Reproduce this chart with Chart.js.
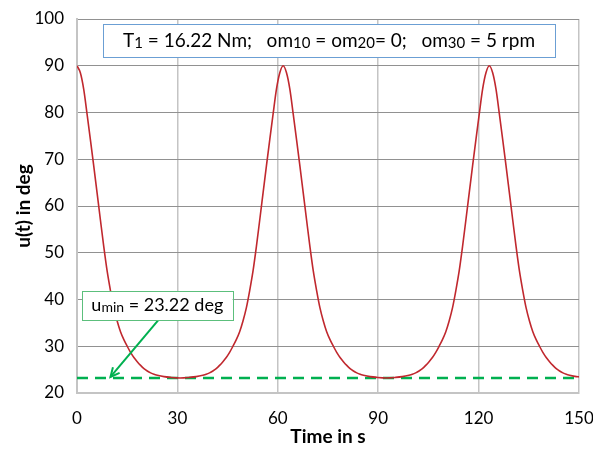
<!DOCTYPE html>
<html>
<head>
<meta charset="utf-8">
<script src="https://cdn.jsdelivr.net/npm/chart.js@4.4.1/dist/chart.umd.min.js"></script>
<style>
  html, body { margin: 0; padding: 0; background: #fff; }
</style>
</head>
<body>
<canvas id="chart" width="593" height="451"></canvas>
<script>
// time in s
const timeS = [
  0, 1, 2, 3, 4, 5, 6, 7, 8, 9, 10, 11, 12, 13, 14, 15, 16, 17, 18, 19, 20, 21, 22, 23, 24, 26, 28, 30.8,
  33.6, 35.6, 37.6, 38.6, 39.6, 40.6, 41.6, 42.6, 43.6, 44.6, 45.6, 46.6, 47.6, 48.6, 49.6, 50.6, 51.6, 52.6, 53.6, 54.6, 55.6, 56.6, 57.6, 58.6, 59.6, 60.6, 61.6,
  62.6, 63.6, 64.6, 65.6, 66.6, 67.6, 68.6, 69.6, 70.6, 71.6, 72.6, 73.6, 74.6, 75.6, 76.6, 77.6, 78.6, 79.6, 80.6, 81.6, 82.6, 83.6, 84.6, 85.6, 87.6, 89.6, 92.4,
  95.2, 97.2, 99.2, 100.2, 101.2, 102.2, 103.2, 104.2, 105.2, 106.2, 107.2, 108.2, 109.2, 110.2, 111.2, 112.2, 113.2, 114.2, 115.2, 116.2, 117.2, 118.2, 119.2, 120.2, 121.2, 122.2, 123.2,
  124.2, 125.2, 126.2, 127.2, 128.2, 129.2, 130.2, 131.2, 132.2, 133.2, 134.2, 135.2, 136.2, 137.2, 138.2, 139.2, 140.2, 141.2, 142.2, 143.2, 144.2, 145.2, 146.2, 147.2, 149.2, 150
];
// u(t) in deg
const uDeg = [
  90, 88.5, 85.0, 79.7, 74.2, 68.6, 62.8, 57.0, 51.3, 46.1, 41.9, 38.2, 35.4, 33.1, 31.4, 30.0, 28.7, 27.6, 26.7, 25.9, 25.2, 24.7, 24.3, 24.0, 23.8, 23.5, 23.34, 23.22,
  23.34, 23.5, 23.8, 24.0, 24.3, 24.7, 25.2, 25.9, 26.7, 27.6, 28.7, 30.0, 31.4, 33.1, 35.4, 38.2, 41.9, 46.1, 51.3, 57.0, 62.8, 68.6, 74.2, 79.7, 85.0, 88.5, 90,
  88.5, 85.0, 79.7, 74.2, 68.6, 62.8, 57.0, 51.3, 46.1, 41.9, 38.2, 35.4, 33.1, 31.4, 30.0, 28.7, 27.6, 26.7, 25.9, 25.2, 24.7, 24.3, 24.0, 23.8, 23.5, 23.34, 23.22,
  23.34, 23.5, 23.8, 24.0, 24.3, 24.7, 25.2, 25.9, 26.7, 27.6, 28.7, 30.0, 31.4, 33.1, 35.4, 38.2, 41.9, 46.1, 51.3, 57.0, 62.8, 68.6, 74.2, 79.7, 85.0, 88.5, 90,
  88.5, 85.0, 79.7, 74.2, 68.6, 62.8, 57.0, 51.3, 46.1, 41.9, 38.2, 35.4, 33.1, 31.4, 30.0, 28.7, 27.6, 26.7, 25.9, 25.2, 24.7, 24.3, 24.0, 23.8, 23.5, 23.45
];
const uMin = 23.22;
const minLineT = [0, 150];

const FONT = 'Lato, "Open Sans", sans-serif';

// text runs: [text, isSubscript]
const infoRuns = [
  ['T', 0], ['1', 1], [' = 16.22 Nm;   om', 0], ['10', 1], [' = om', 0], ['20', 1],
  ['= 0;   om', 0], ['30', 1], [' = 5 rpm', 0]
];
const minRuns = [['u', 0], ['min', 1], [' = 23.22 deg', 0]];

function runsWidth(ctx, runs, size) {
  let w = 0;
  for (const [t, sub] of runs) {
    ctx.font = (sub ? Math.round(size * 0.78) : size) + 'px ' + FONT;
    w += ctx.measureText(t).width;
  }
  return w;
}

function drawRuns(ctx, runs, cx, cy, size) {
  let x = cx - runsWidth(ctx, runs, size) / 2;
  ctx.fillStyle = '#000';
  ctx.textBaseline = 'middle';
  ctx.textAlign = 'left';
  for (const [t, sub] of runs) {
    ctx.font = (sub ? Math.round(size * 0.78) : size) + 'px ' + FONT;
    ctx.fillText(t, x, cy + (sub ? 2 : 0));
    x += ctx.measureText(t).width;
  }
}

const annotations = {
  id: 'annotations',
  afterDraw(chart) {
    const ctx = chart.ctx;
    const xs = chart.scales.x, ys = chart.scales.y;
    ctx.save();

    // info box at top
    let l = xs.getPixelForValue(7.8), r = xs.getPixelForValue(142.8);
    let t = ys.getPixelForValue(98.9), b = ys.getPixelForValue(91.8);
    ctx.fillStyle = '#fff';
    ctx.fillRect(l, t, r - l, b - t);
    ctx.strokeStyle = '#6b9fd4';
    ctx.lineWidth = 1;
    ctx.strokeRect(Math.round(l) + 0.5, Math.round(t) + 0.5, Math.round(r - l), Math.round(b - t));
    drawRuns(ctx, infoRuns, (l + r) / 2, (t + b) / 2, 19);

    // arrow to the min line
    const ax0 = xs.getPixelForValue(24.8), ay0 = ys.getPixelForValue(36);
    const ax1 = xs.getPixelForValue(10), ay1 = ys.getPixelForValue(uMin) - 1;
    ctx.strokeStyle = '#00b050';
    ctx.lineWidth = 2;
    ctx.beginPath();
    ctx.moveTo(ax0, ay0);
    ctx.lineTo(ax1, ay1);
    ctx.stroke();
    const ang = Math.atan2(ay1 - ay0, ax1 - ax0);
    ctx.beginPath();
    ctx.moveTo(ax1 - 10 * Math.cos(ang - 0.45), ay1 - 10 * Math.sin(ang - 0.45));
    ctx.lineTo(ax1, ay1);
    ctx.lineTo(ax1 - 10 * Math.cos(ang + 0.45), ay1 - 10 * Math.sin(ang + 0.45));
    ctx.stroke();

    // umin box
    l = xs.getPixelForValue(1.5); r = xs.getPixelForValue(46.5);
    t = ys.getPixelForValue(41.8); b = ys.getPixelForValue(35.6);
    ctx.fillStyle = '#fff';
    ctx.fillRect(l, t, r - l, b - t);
    ctx.strokeStyle = '#5cbf7c';
    ctx.lineWidth = 1;
    ctx.strokeRect(Math.round(l) + 0.5, Math.round(t) + 0.5, Math.round(r - l), Math.round(b - t));
    drawRuns(ctx, minRuns, (l + r) / 2, (t + b) / 2, 18);

    ctx.restore();
  }
};

new Chart(document.getElementById('chart').getContext('2d'), {
  type: 'line',
  data: {
    datasets: [
      {
        label: 'u(t)',
        data: timeS.map((t, i) => ({ x: t, y: uDeg[i] })),
        borderColor: '#c0282e',
        borderWidth: 1.6,
        pointRadius: 0,
        cubicInterpolationMode: 'monotone',
        fill: false
      },
      {
        label: 'umin',
        data: minLineT.map(t => ({ x: t, y: uMin })),
        borderColor: '#00b050',
        borderWidth: 2.5,
        borderDash: [11, 7],
        pointRadius: 0,
        fill: false
      }
    ]
  },
  options: {
    responsive: false,
    animation: false,
    layout: { padding: { top: 19, right: 14, left: 0, bottom: 0 } },
    plugins: { legend: { display: false }, tooltip: { enabled: false } },
    scales: {
      x: {
        type: 'linear',
        min: 0, max: 150,
        ticks: { stepSize: 30, color: '#000', font: { family: FONT, size: 17 }, padding: 15, maxRotation: 0 },
        grid: { color: '#c4c4c4', lineWidth: 1.5, drawTicks: false },
        border: { color: '#c4c4c4', width: 2 },
        title: { display: true, text: 'Time in s', color: '#000', font: { family: FONT, size: 19, weight: 'bold' }, padding: { top: 0, bottom: 3 } },
        afterFit(scale) {
          scale.height = 58;
          scale.paddingLeft = 0;
          scale.paddingRight = 0;
        }
      },
      y: {
        min: 20, max: 100,
        ticks: { stepSize: 10, color: '#000', font: { family: FONT, size: 17 }, padding: 13 },
        grid: { color: '#919191', lineWidth: 1, drawTicks: false },
        border: { color: '#c4c4c4', width: 2 },
        title: { display: true, text: 'u(t) in deg', color: '#000', font: { family: FONT, size: 19, weight: 'bold' }, padding: { top: 12, bottom: 0 } },
        afterFit(scale) {
          scale.width = 77;
          scale.paddingTop = 0;
          scale.paddingBottom = 0;
        }
      }
    }
  },
  plugins: [annotations]
});
</script>
</body>
</html>
